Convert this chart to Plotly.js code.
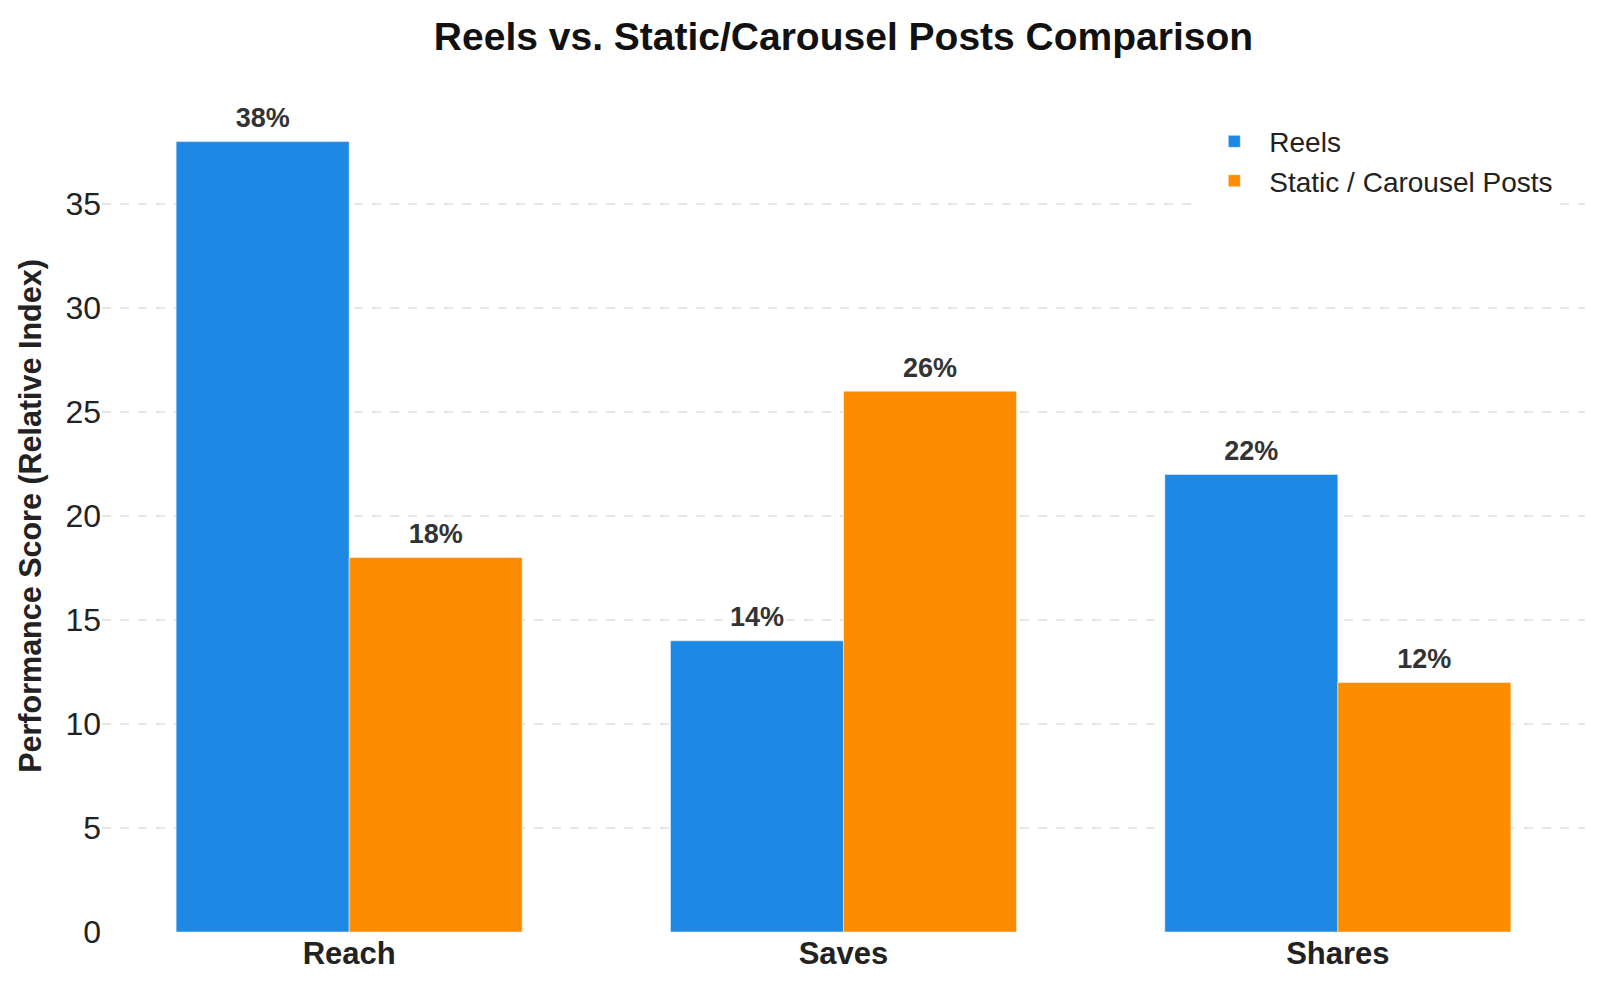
<!DOCTYPE html>
<html>
<head>
<meta charset="utf-8">
<script src="https://cdn.plot.ly/plotly-3.0.1.min.js"></script>
<style>html,body{margin:0;padding:0;background:#fff;}#chart{width:1600px;height:992px;}</style>
</head>
<body>
<div id="chart"></div>
<script>
const categories = ["Reach", "Saves", "Shares"];
const reelsValues = [38, 14, 22];
const staticValues = [18, 26, 12];
const seriesNames = ["Reels", "Static / Carousel Posts"];
const seriesColors = ["#1E88E5", "#FF8C00"];
const yTickValues = [0, 5, 10, 15, 20, 25, 30, 35];

const FONT = "Liberation Sans, Arial, sans-serif";

function pct(arr) { return arr.map(v => v + "%"); }

function barTrace(i, vals) {
  return {
    type: "bar", name: seriesNames[i], x: categories, y: vals,
    offsetgroup: "g" + i, legendgroup: "g" + i,
    marker: {color: seriesColors[i], line: {color: "rgba(255,255,255,0.6)", width: 0.8}},
    hoverinfo: "none"
  };
}
function labelTrace(i, vals) {
  return {
    type: "scatter", mode: "markers+text", x: categories, y: vals,
    offsetgroup: "g" + i, showlegend: false,
    text: pct(vals), textposition: "top center", cliponaxis: false,
    textfont: {family: FONT, size: 27, color: "#333333", weight: "bold"},
    marker: {size: 11, color: "rgba(0,0,0,0)"},
    hoverinfo: "none"
  };
}

const traces = [
  barTrace(0, reelsValues), barTrace(1, staticValues),
  labelTrace(0, reelsValues), labelTrace(1, staticValues)
];

const layout = {
  width: 1600, height: 992,
  margin: {l: 102, r: 15, t: 100, b: 60},
  paper_bgcolor: "#ffffff", plot_bgcolor: "#ffffff",
  font: {family: FONT, color: "#222222"},
  barmode: "group", bargap: 0.3, bargroupgap: 0,
  scattermode: "group", scattergap: 0.3,
  title: {
    text: "<b>Reels vs. Static/Carousel Posts Comparison</b>",
    font: {family: FONT, size: 39, color: "#111111"},
    x: 0.5, xref: "paper", xanchor: "center", y: 0.963, yanchor: "middle"
  },
  xaxis: {
    type: "category",
    showgrid: false, zeroline: false, showline: false, ticks: "",
    tickfont: {family: FONT, size: 31, color: "#222222", weight: "bold"}
  },
  yaxis: {
    range: [0, 40], tickvals: yTickValues, ticktext: yTickValues.map(String),
    showgrid: true, gridcolor: "#e6e6e6", griddash: "dash", gridwidth: 1.2,
    zeroline: false, showline: false, ticks: "",
    tickfont: {family: FONT, size: 32, color: "#222222"},
    title: {
      text: "<b>Performance Score (Relative Index)</b>",
      font: {family: FONT, size: 30.5, color: "#222222"}, standoff: 14
    }
  },
  showlegend: true,
  legend: {
    x: 0.982, xanchor: "right", y: 0.98, yanchor: "top",
    font: {family: FONT, size: 28, color: "#222222"},
    bgcolor: "rgba(255,255,255,1)", borderwidth: 0,
    itemwidth: 60, tracegroupgap: 0
  }
};

Plotly.newPlot("chart", traces, layout, {displayModeBar: false, staticPlot: true});
</script>
</body>
</html>
